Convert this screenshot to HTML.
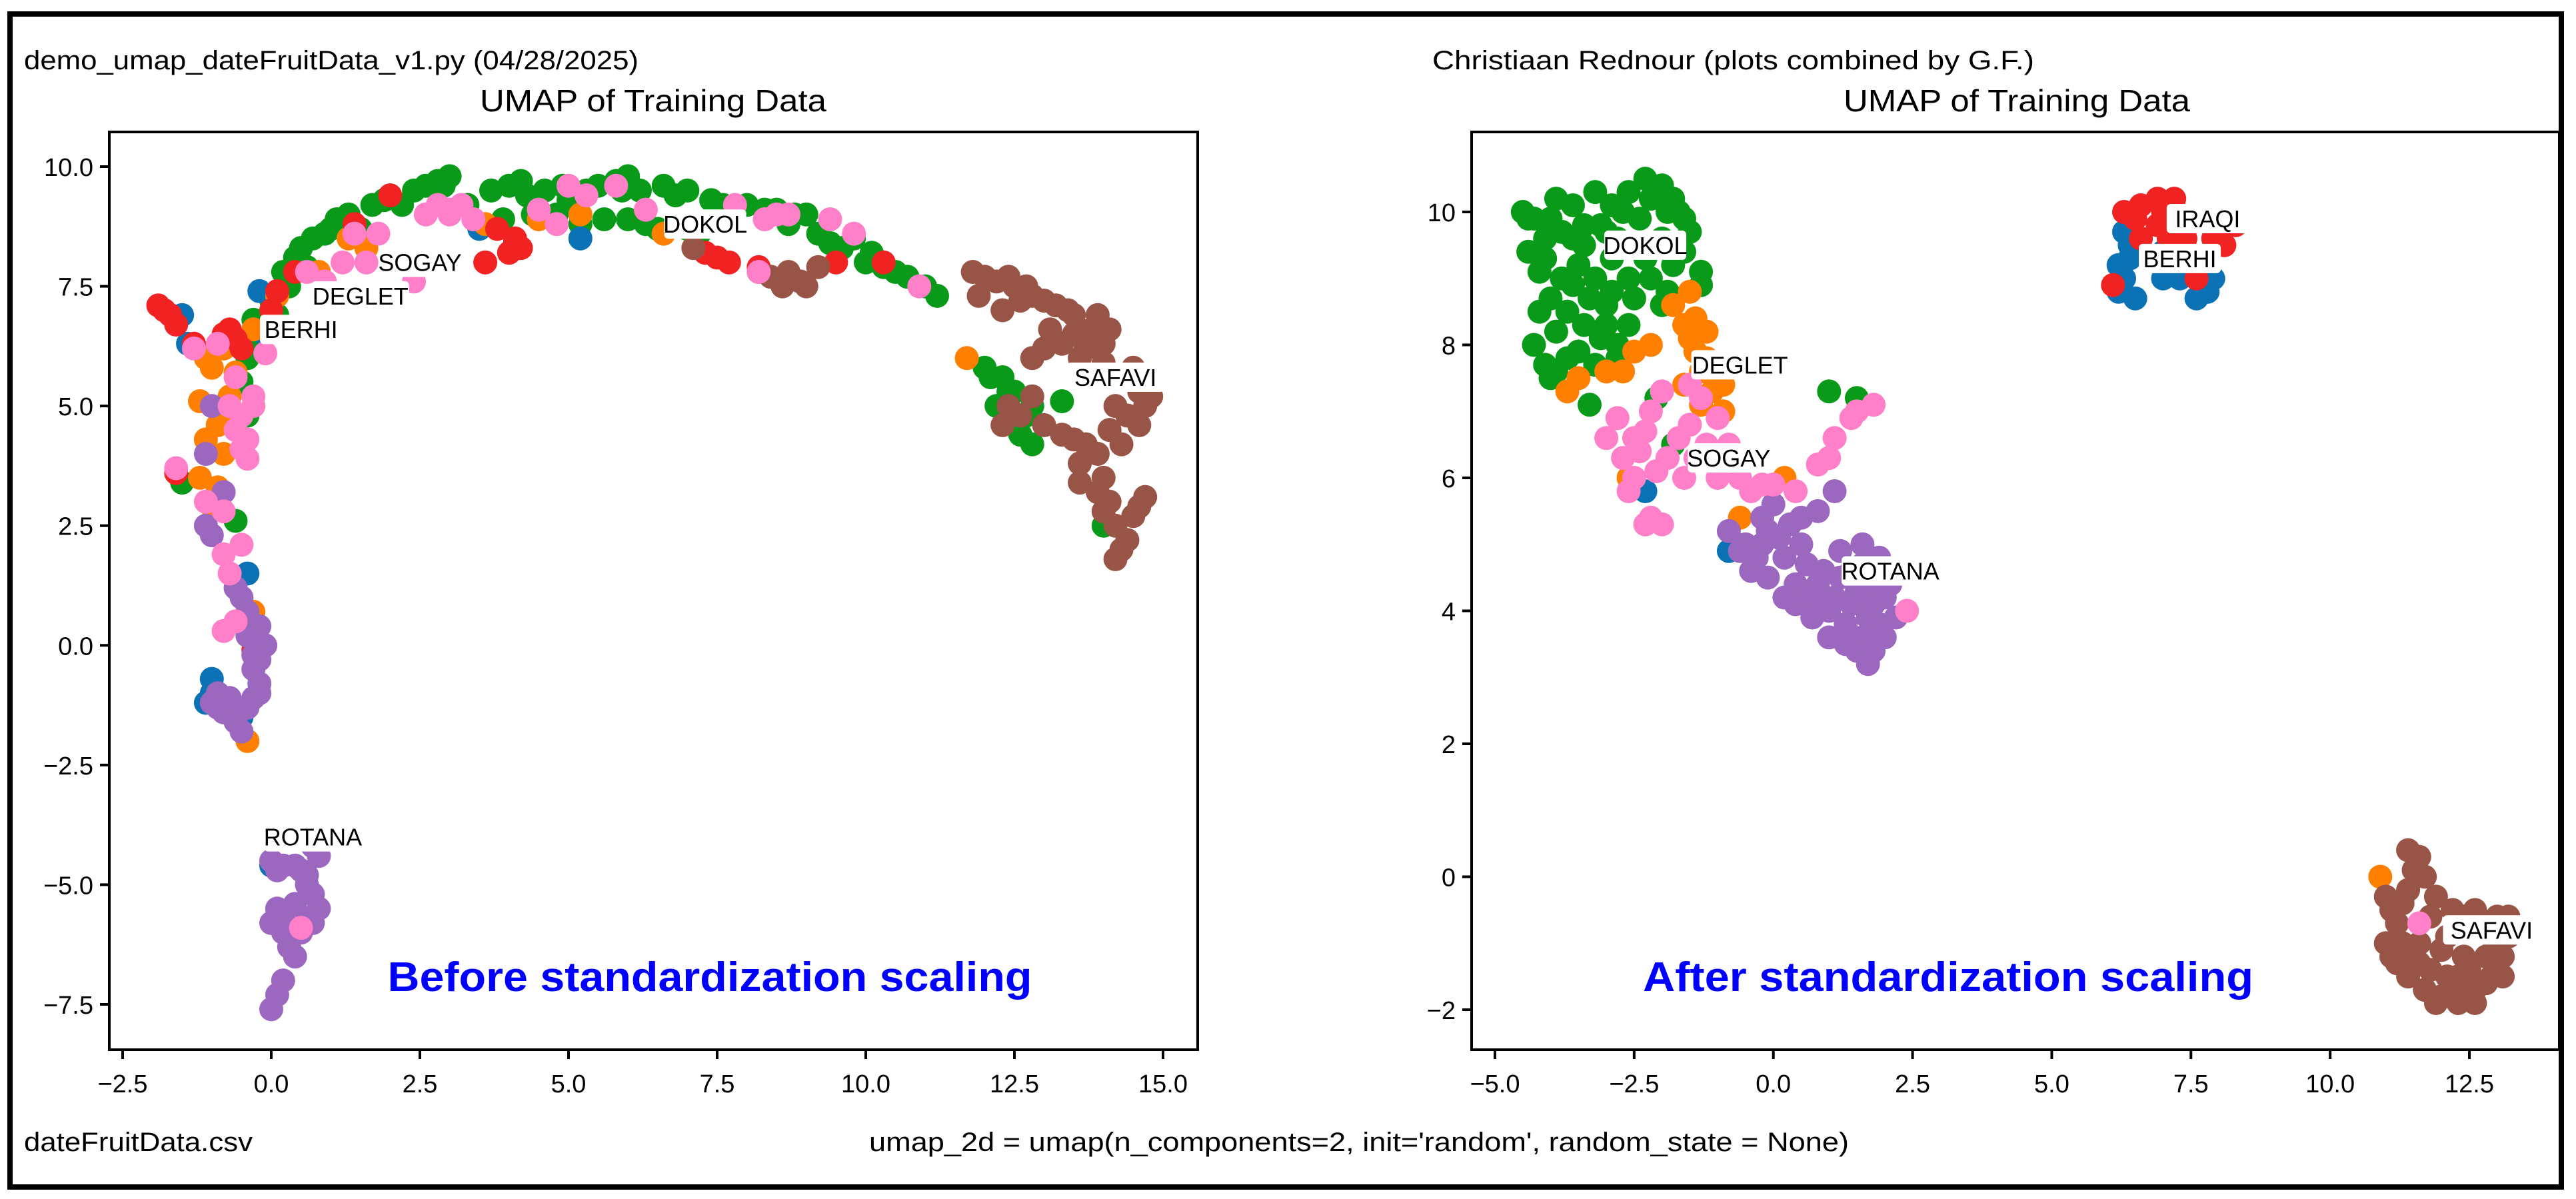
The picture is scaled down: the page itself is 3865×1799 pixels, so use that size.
<!DOCTYPE html>
<html><head><meta charset="utf-8"><style>
html,body{margin:0;padding:0;background:#fff}
svg{display:block}
text{font-family:"Liberation Sans",sans-serif}
</style></head><body>
<svg id="fig" xmlns="http://www.w3.org/2000/svg" width="3865" height="1799" viewBox="0 0 3865 1799">
<rect x="15" y="21" width="3828" height="1760" fill="#fff" stroke="#000" stroke-width="8"/>
<text x="36" y="104" font-size="40" textLength="922" lengthAdjust="spacingAndGlyphs">demo_umap_dateFruitData_v1.py (04/28/2025)</text>
<text x="2149" y="104" font-size="40" textLength="903" lengthAdjust="spacingAndGlyphs">Christiaan Rednour  (plots combined by G.F.)</text>
<text x="36" y="1727" font-size="40" textLength="343" lengthAdjust="spacingAndGlyphs">dateFruitData.csv</text>
<text x="1304" y="1727" font-size="40" textLength="1470" lengthAdjust="spacingAndGlyphs">umap_2d = umap(n_components=2, init='random', random_state = None)</text>
<g id="left"></g>
<g id="right"></g>
</svg>
<script>
const NS="http://www.w3.org/2000/svg";
const colors={blue:"#0a72b5",orange:"#ff8000",green:"#0a9a1a",red:"#f02222",purple:"#9c68bf",brown:"#985446",pink:"#ff80c8"};
// ---- left plot data (before scaling) ----
const L_green=[[-0.3,6.8],[0,7.2],[0.2,7.8],[0.4,8.1],[0.7,8.5],[1,8.7],[1.3,9],[1.7,9.2],[2,9.4],[2.4,9.5],[2.8,9.7],[3,9.8],[3.3,9.2],[4,9.6],[4.3,9.4],[4.6,9.5],[5,9.3],[5.5,9.6],[5.8,9.7],[6.2,9.5],[6.6,9.6],[7,9.5],[7.4,9.3],[7.8,9.1],[8.3,9.1],[8.8,9],[9.2,8.6],[9.6,8.3],[10,8],[10.3,7.9],[10.7,7.7],[11,7.5],[11.2,7.3],[4.8,9],[5.6,8.9],[6.3,8.8],[7.2,8.6],[9.8,8.5],[2.2,9.2],[0.6,7.9],[1.5,8.7],[3.9,8.9],[-0.4,4.8],[-0.5,5.5],[-0.6,2.6],[-1.5,3.4],[12,5.8],[12.3,5.6],[12.5,5.3],[12.8,5.0],[12.6,4.4],[12.8,4.2],[13.3,5.1],[12.2,5.0],[14,2.5],[6.5,8.7],[8.7,8.8],[0.1,6.9],[-0.2,6.3],
[0.3,7.5],[0.5,8.3],[0.9,8.6],[1.1,8.9],[1.9,9.3],[2.6,9.6],[2.9,9.6],[3.7,9.5],[4.2,9.7],[4.9,9.6],[5.3,9.5],[5.9,9.5],[6.0,9.8],[6.8,9.4],[7.6,9.2],[8.0,9.2],[8.5,9.1],[9.0,9.0],[9.4,8.4],[10.1,8.2],[10.5,7.8],[5.2,8.8],[6.0,8.9],[7.0,8.7],[12.1,5.6],[12.4,5.3],[12.7,4.8],[-0.3,5.0],[-0.4,6.0],[4.4,9.0]];
const L_brown=[[11.8,7.8],[12.2,7.6],[12.5,7.5],[12.8,7.3],[13.2,7.1],[13.5,6.9],[13.8,6.6],[14,6.3],[13.7,6.5],[13.3,6.3],[12.8,6.0],[13,6.2],[12.3,7.0],[12.6,7.2],[14.5,5.8],[14.8,5.2],[14.6,4.6],[14.3,4.2],[13.9,4.0],[13.5,4.3],[13.0,4.6],[12.8,5.2],[12.4,5.0],[14.0,3.5],[14.1,3.0],[14.2,2.5],[14.3,2.0],[14.6,2.9],[14.7,3.1],[14.2,1.8],[13.6,3.4],[8.2,7.8],[8.6,7.5],[8.9,7.6],[9.2,7.9],[7.1,8.3],[11.9,7.3],[13.6,6.0],[14.2,5.0],
[12.0,7.7],[12.4,7.7],[12.7,7.5],[13.0,7.2],[13.4,7.0],[13.9,6.9],[14.1,6.6],[13.5,6.5],[13.1,6.6],[13.7,6.2],[14.0,5.9],[14.6,5.3],[14.7,5.0],[14.4,4.8],[14.1,4.5],[13.7,4.2],[13.3,4.4],[13.6,3.8],[13.9,3.2],[14.0,2.8],[14.4,2.2],[14.5,2.7],[12.6,4.8],[12.3,4.6],[8.4,7.7],[8.7,7.8],[9.0,7.5]];
const L_red=[[-1.9,7.1],[-1.7,6.9],[-1.6,6.7],[-1.3,6.3],[-0.8,6.5],[-0.6,6.4],[-0.5,6.2],[0.1,7.4],[0.4,7.8],[1.4,8.8],[2,9.4],[3.6,8],[3.8,8.7],[4.2,8.3],[4.0,8.2],[7.3,8.2],[7.7,8.0],[9.5,8.0],[10.3,8.0],[-1.6,3.6],[-0.3,-0.1],[0,7.0],[8.2,7.9],[-1.8,7.0],[-0.7,6.6],[4.1,8.5],[7.5,8.1]];
const L_orange=[[-1,6.1],[-0.8,6.2],[-0.6,5.7],[-1.2,5.1],[-0.9,4.6],[-0.7,4.9],[-1.1,4.3],[-0.8,4.0],[-1.2,3.5],[-1.0,2.9],[-0.7,5.2],[-0.3,0.7],[-0.4,-2.0],[0.1,7.3],[1.3,8.5],[1.6,8.3],[3.6,8.8],[4.5,8.9],[5.2,9.0],[6.6,8.6],[11.7,6.0],[0.8,7.8],[-0.3,6.6],[-1.0,5.8],[-0.9,3.3],[-1.1,6.0]];
const L_blue=[[-1.5,6.9],[-1.4,6.3],[-0.2,7.4],[-0.1,6.5],[-1,-1],[-1,-0.7],[-0.5,-1.5],[0,-4.6],[3.5,8.7],[5.2,8.5],[4.1,8.4],[-0.4,1.5],[-1.1,-1.2]];
const L_pink=[[-1.6,3.7],[-1.1,3.0],[-0.8,2.8],[-0.5,4.1],[-0.4,3.9],[-0.6,4.5],[-0.7,5.0],[-0.6,5.6],[-0.3,5.0],[-0.3,5.2],[-0.9,6.3],[-0.1,6.1],[0.6,7.8],[0.9,7.6],[1.4,8.6],[1.8,8.6],[1.2,8.0],[2.4,7.6],[2.6,9.0],[3,9.1],[3.2,9.2],[3.4,8.9],[4.5,9.1],[4.8,8.8],[5.0,9.6],[5.3,9.4],[5.8,9.6],[6.3,9.1],[7.8,9.2],[8.3,8.9],[8.7,9.0],[9.4,8.9],[9.8,8.6],[10.9,7.5],[8.2,7.8],[-0.7,1.5],[-0.8,0.3],[-0.6,0.5],[-0.8,1.9],[-0.5,2.1],[0.5,-5.9],[-1.3,6.2],[3.0,9.0],[1.6,8.0],[2.8,9.2],[8.5,9.0],[-0.4,4.3],[-0.5,4.8]];
const L_purple=[[-1.1,2.5],[-1.0,2.3],[-0.5,1.0],[-0.4,0.7],[-0.2,0.4],[-0.1,0.0],[-0.2,-0.3],[-0.3,-0.5],[-0.2,-0.8],[-0.3,-1.1],[-1,-1.2],[-0.8,-1.4],[-0.6,-1.6],[-0.5,-1.8],[-0.9,-1.0],[-0.4,-1.3],[-0.6,-1.3],[-0.8,3.2],[-1.1,4.0],[-1.0,5.0],[0,-4.5],[0.2,-4.6],[0.4,-4.6],[0.7,-4.2],[0.8,-4.4],[0.6,-4.8],[0.7,-5.2],[0.8,-5.5],[0.6,-5.7],[0.4,-5.4],[0.2,-5.7],[0.0,-5.8],[0.2,-6.0],[0.3,-6.3],[0.4,-6.5],[0.2,-7.0],[0.1,-7.3],[0,-7.6],[0.6,-5.0],[0.1,-5.5],[0.5,-4.7],[-0.3,-0.2],[-0.6,1.2],[-0.4,0.2],[-0.7,-1.1],[-0.9,-1.3],[-0.2,-1.0],[0.5,-6.0],[0.7,-5.8],[0.1,-4.7]];
const L_labels=["SOGAY","DEGLET","BERHI","DOKOL","SAFAVI","ROTANA"];
const L_labelPos=[[2.5,8.0],[1.5,7.3],[0.5,6.6],[7.3,8.8],[14.2,5.6],[0.7,-4.0]];
const L_xticks=[-2.5,0,2.5,5,7.5,10,12.5,15];
const L_xtickLabels=["\u22122.5","0.0","2.5","5.0","7.5","10.0","12.5","15.0"];
const L_yticks=[10,7.5,5,2.5,0,-2.5,-5,-7.5];
const L_ytickLabels=["10.0","7.5","5.0","2.5","0.0","\u22122.5","\u22125.0","\u22127.5"];
// ---- right plot data (after scaling) ----
const R_green=[[-4.5,10],[-4.3,9.9],[-4.1,9.6],[-4.4,9.4],[-3.9,10.2],[-3.6,10.1],[-3.2,10.3],[-2.9,10.1],[-2.6,10.3],[-2.3,10.5],[-2.0,10.4],[-1.8,10.2],[-1.7,10.0],[-1.5,9.7],[-1.6,9.4],[-2.0,9.6],[-2.3,9.3],[-2.6,9.0],[-2.9,9.3],[-3.2,9.0],[-3.5,9.2],[-3.8,9.0],[-4.0,8.7],[-3.7,8.5],[-3.4,8.3],[-3.1,8.1],[-2.8,8.0],[-3.5,7.9],[-3.9,7.6],[-4.0,7.5],[-4.2,8.5],[-3.3,7.1],[-1.9,8.8],[-1.3,8.9],[-1.3,9.1],[-2.1,7.2],[-3.0,8.6],[-3.6,9.6],[-2.4,9.9],[-1.8,6.5],[1.0,7.3],[1.5,7.2],[-2.8,7.8],[-4.2,9.1],[-3.0,9.7],
[-4.4,9.9],[-4.0,9.9],[-3.8,9.7],[-3.4,9.8],[-3.1,9.8],[-2.8,9.6],[-2.7,10.0],[-2.2,10.2],[-1.9,10.0],[-1.6,9.9],[-2.2,9.0],[-1.8,9.2],[-2.5,8.7],[-2.9,8.8],[-3.3,8.7],[-3.6,8.9],[-4.1,9.3],[-3.9,8.2],[-3.7,7.8],[-3.2,7.7],[-3.0,8.3],[-2.6,8.3],[-4.3,8.0],[-4.1,7.7],[-3.4,9.5],[-2.0,8.6]];
const R_orange=[[-1.4,8.4],[-1.5,8.1],[-1.2,8.2],[-1.8,8.6],[-1.3,7.6],[-1.1,7.3],[-0.9,7.0],[-1.3,7.1],[-2.5,7.9],[-3.0,7.6],[-3.5,7.5],[-2.2,8.0],[0.2,6.0],[-0.6,5.4],[-1.6,7.4],[-1.5,8.8],[10.9,0.0],[-3.7,7.3],[-2.6,6.0],[-1.4,7.9],[-1.2,7.8],[-1.6,8.3],[-0.9,7.4],[-2.7,7.6]];
const R_pink=[[-2.0,7.3],[-1.5,7.4],[-1.3,7.2],[-2.2,7.0],[-2.8,6.9],[-3.0,6.6],[-2.7,6.3],[-2.4,6.4],[-2.5,6.0],[-2.6,5.8],[-2.2,5.4],[-2.0,5.3],[-1.5,6.8],[-1.7,6.6],[-1.2,6.5],[-1.6,6.0],[-1.0,6.0],[-0.6,6.0],[-0.2,5.9],[0.4,5.8],[0.8,6.2],[1.1,6.6],[1.5,7.0],[1.8,7.1],[1.4,6.9],[-2.3,6.7],[-1.9,6.3],[2.4,4.0],[11.6,-0.7],[-0.8,6.5],[1.0,6.3],[-2.5,6.6],[-2.1,6.1],[-1.4,6.3],[-1.0,6.9],[-0.4,5.8],[0.0,5.9],[-2.3,5.3]];
const R_purple=[[-0.8,5.2],[-0.5,5.0],[-0.2,5.4],[0.0,5.6],[0.3,5.3],[0.5,5.0],[0.2,4.8],[-0.4,4.6],[-0.1,4.5],[0.4,4.4],[0.7,4.2],[1.0,4.0],[1.3,3.8],[1.6,3.6],[1.9,3.8],[2.2,3.9],[2.0,4.2],[1.7,4.4],[1.4,4.6],[1.2,4.9],[1.6,5.0],[1.9,4.8],[1.5,3.4],[1.7,3.2],[1.0,3.6],[0.4,4.1],[0.9,4.6],[1.1,5.8],[0.8,5.5],[2.1,4.4],
[-0.6,4.9],[-0.2,5.0],[0.1,5.1],[0.6,4.7],[0.8,4.4],[1.1,4.2],[1.4,4.1],[1.7,3.9],[2.0,3.6],[1.3,3.5],[0.7,3.9],[0.2,4.2],[-0.3,4.8],[1.5,4.3],[1.8,4.1],[1.2,4.5],[1.6,4.7],[0.5,5.4],[-0.1,5.2],[1.8,3.4]];
const R_blue=[[-2.3,5.8],[-0.8,4.9],[1.8,3.6],[6.2,9.2],[6.4,9.5],[6.2,8.8],[6.5,8.7],[7.0,9.0],[7.5,9.1],[7.8,8.8],[7.6,8.7],[7.0,9.4],[6.3,9.7],[6.3,9.0],[7.3,9.0],[7.9,9.0],[6.4,9.3]];
const R_red=[[6.3,10.0],[6.6,10.1],[6.9,10.2],[7.2,10.2],[7.3,9.8],[7.6,9.9],[8.0,9.7],[8.3,9.8],[6.6,9.6],[6.9,9.8],[6.1,8.9],[7.6,9.0],[7.9,9.6],[6.8,9.3],[6.5,9.9],[7.0,10.0],[7.4,9.6],[8.1,9.5],[7.1,9.6]];
const R_brown=[[11.4,0.4],[11.6,0.3],[11.7,0.0],[11.4,-0.2],[11.0,-0.3],[11.2,-0.7],[11.0,-1.0],[11.2,-1.3],[11.4,-1.5],[11.7,-1.7],[12.0,-1.8],[12.3,-1.9],[12.6,-1.7],[12.9,-1.5],[13.1,-1.2],[13.2,-0.9],[13.0,-0.6],[12.6,-0.5],[12.2,-0.5],[11.9,-0.3],[12.4,-1.2],[12.0,-1.1],[11.6,-1.0],[12.8,-1.2],[11.6,-1.3],[12.3,-1.5],[12.9,-0.9],
[11.5,0.1],[11.3,-0.4],[11.1,-0.5],[11.1,-1.2],[11.3,-1.0],[11.5,-1.2],[11.8,-1.4],[12.1,-1.5],[12.5,-1.4],[12.8,-1.6],[13.0,-1.3],[13.2,-0.6],[12.4,-0.6],[11.8,-0.6],[12.2,-1.7],[11.9,-1.9],[12.6,-1.9],[12.1,-0.9],[12.7,-0.8],[13.1,-1.5]];
const R_labels=["DOKOL","DEGLET","SOGAY","ROTANA","IRAQI","BERHI","SAFAVI"];
const R_labelPos=[[-2.3,9.5],[-0.6,7.7],[-0.8,6.3],[2.1,4.6],[7.8,9.9],[7.3,9.3],[12.9,-0.8]];
const R_xticks=[-5,-2.5,0,2.5,5,7.5,10,12.5];
const R_xtickLabels=["\u22125.0","\u22122.5","0.0","2.5","5.0","7.5","10.0","12.5"];
const R_yticks=[10,8,6,4,2,0,-2];
const R_ytickLabels=["10","8","6","4","2","0","\u22122"];

function el(tag,attrs,parent){const e=document.createElementNS(NS,tag);for(const k in attrs)e.setAttribute(k,attrs[k]);parent.appendChild(e);return e;}
function drawPlot(g,cfg){
  const sx=v=>cfg.x0+(v-cfg.xa)*(cfg.x1-cfg.x0)/(cfg.xb-cfg.xa);
  const sy=v=>cfg.y0+(v-cfg.ya)*(cfg.y1-cfg.y0)/(cfg.yb-cfg.ya);
  const fr=el('rect',{x:cfg.fl,y:cfg.ft,width:cfg.fr-cfg.fl,height:cfg.fb-cfg.ft,fill:'#fff',stroke:'#000','stroke-width':4},g);
  
  
  const t=el('text',{x:cfg.tx,y:167,'font-size':46,'text-anchor':'middle',textLength:520,lengthAdjust:'spacingAndGlyphs'},g);
  t.textContent="UMAP of Training Data";
  
  
  cfg.series.forEach(s=>{
    const sg=el('g',{fill:colors[s.c]},g);
    
    
    s.d.forEach(p=>{
      const c=el('circle',{cx:sx(p[0]).toFixed(1),cy:sy(p[1]).toFixed(1),r:18},sg);
      
      
    });
  });
  cfg.xt.forEach((v,i)=>{
    const x=sx(v);
    const l=el('line',{x1:x,x2:x,y1:cfg.fb,y2:cfg.fb+14,stroke:'#000','stroke-width':4},g);
    
    
    const tx=el('text',{x:x,y:cfg.fb+64,'font-size':38,'text-anchor':'middle'},g);
    tx.textContent=cfg.xtl[i];
    
    
  });
  cfg.yt.forEach((v,i)=>{
    const y=sy(v);
    const l=el('line',{x1:cfg.fl-14,x2:cfg.fl,y1:y,y2:y,stroke:'#000','stroke-width':4},g);
    
    
    const ty=el('text',{x:cfg.fl-24,y:y+14,'font-size':38,'text-anchor':'end'},g);
    ty.textContent=cfg.ytl[i];
    
    
  });
  cfg.labels.forEach((lab,i)=>{
    const x=sx(cfg.lpos[i][0]),y=sy(cfg.lpos[i][1]);
    const w=lab.length*23+8;
    const bg=el('rect',{x:x-w/2,y:y-22,width:w,height:44,fill:'#fff',rx:6},g);
    
    
    const tl=el('text',{x:x,y:y+13,'font-size':36,'text-anchor':'middle'},g);
    tl.textContent=lab;
    
    
  });
  const note=el('text',{x:cfg.nx,y:1487,'font-size':62,'font-weight':'bold',fill:'#0000ff','text-anchor':'middle',textLength:cfg.nw,lengthAdjust:'spacingAndGlyphs'},g);
  note.textContent=cfg.note;
  
  
}
drawPlot(document.getElementById('left'),{
  fl:164,fr:1797,ft:198,fb:1575,tx:980,
  xa:-2.5,xb:15,x0:184,x1:1745,ya:10,yb:-7.5,y0:250,y1:1507,
  series:[{c:'green',d:L_green},{c:'blue',d:L_blue},{c:'orange',d:L_orange},{c:'red',d:L_red},{c:'brown',d:L_brown},{c:'purple',d:L_purple},{c:'pink',d:L_pink}],
  xt:L_xticks,xtl:L_xtickLabels,yt:L_yticks,ytl:L_ytickLabels,labels:L_labels,lpos:L_labelPos,
  note:"Before standardization scaling",nx:1065,nw:967});
drawPlot(document.getElementById('right'),{
  fl:2208,fr:3840,ft:198,fb:1575,tx:3026,
  xa:-5,xb:12.5,x0:2243,x1:3705,ya:10,yb:-2,y0:318,y1:1515,
  series:[{c:'blue',d:R_blue},{c:'green',d:R_green},{c:'orange',d:R_orange},{c:'red',d:R_red},{c:'brown',d:R_brown},{c:'purple',d:R_purple},{c:'pink',d:R_pink}],
  xt:R_xticks,xtl:R_xtickLabels,yt:R_yticks,ytl:R_ytickLabels,labels:R_labels,lpos:R_labelPos,
  note:"After standardization scaling",nx:2923,nw:916});
</script>
</body></html>
